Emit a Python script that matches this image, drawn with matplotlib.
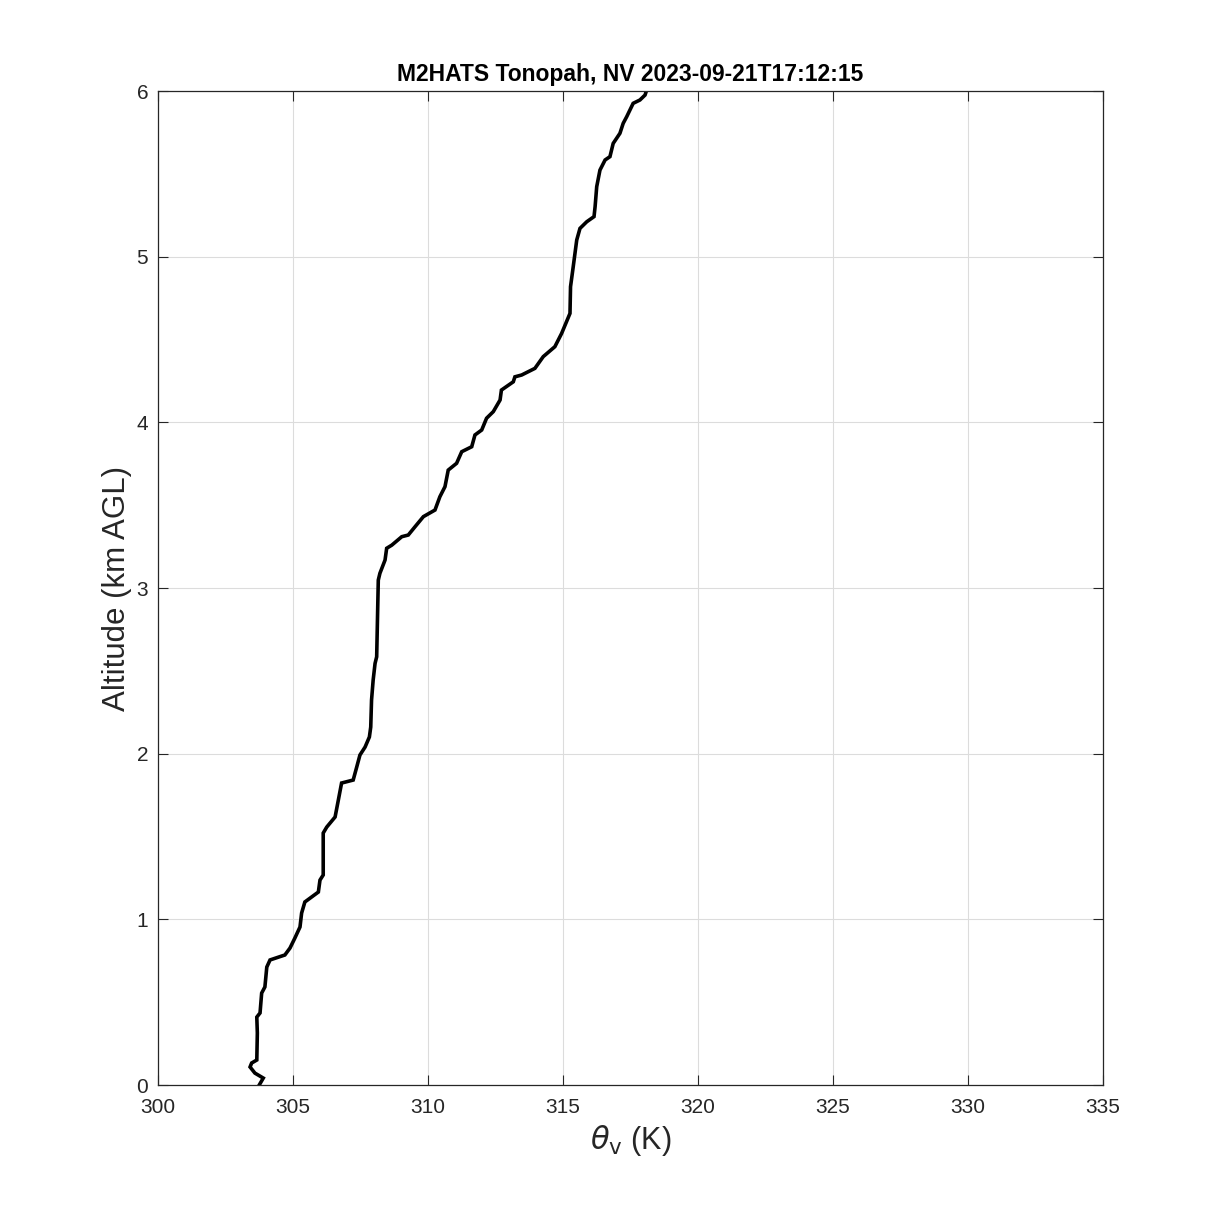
import numpy as np
import matplotlib
matplotlib.use("Agg")
import matplotlib.pyplot as plt

# virtual potential temperature (K) vs altitude (km AGL)
theta_v = [303.75, 303.90, 303.59, 303.41, 303.47, 303.66, 303.68, 303.66, 303.78, 303.84,
           303.96, 304.03, 304.15, 304.70, 304.89, 305.07, 305.26, 305.32, 305.44, 305.69,
           305.94, 306.00, 306.12, 306.12, 306.25, 306.56, 306.68, 306.80, 307.23, 307.36,
           307.48, 307.67, 307.83, 307.88, 307.91, 307.97, 308.04, 308.10, 308.16, 308.22,
           308.41, 308.47, 308.66, 309.03, 309.27, 309.52, 309.83, 310.26, 310.44, 310.63,
           310.75, 311.06, 311.25, 311.62, 311.74, 311.99, 312.17, 312.42, 312.67, 312.72,
           313.16, 313.22, 313.47, 313.96, 314.27, 314.70, 314.95, 315.26, 315.28, 315.38,
           315.51, 315.63, 315.88, 316.15, 316.19, 316.25, 316.37, 316.56, 316.74, 316.86,
           317.11, 317.23, 317.36, 317.60, 317.85, 318.04, 318.10]
alt_km = [0.000, 0.042, 0.072, 0.109, 0.133, 0.151, 0.314, 0.410, 0.435, 0.555,
          0.592, 0.712, 0.755, 0.785, 0.827, 0.887, 0.954, 1.038, 1.105, 1.135,
          1.165, 1.237, 1.268, 1.521, 1.557, 1.618, 1.720, 1.823, 1.841, 1.919,
          1.992, 2.040, 2.101, 2.161, 2.324, 2.445, 2.545, 2.585, 3.048, 3.089,
          3.169, 3.240, 3.259, 3.310, 3.320, 3.370, 3.431, 3.471, 3.551, 3.612,
          3.712, 3.753, 3.823, 3.853, 3.924, 3.954, 4.025, 4.065, 4.135, 4.195,
          4.245, 4.275, 4.286, 4.326, 4.397, 4.457, 4.537, 4.658, 4.819, 4.940,
          5.101, 5.171, 5.211, 5.242, 5.302, 5.423, 5.523, 5.584, 5.604, 5.684,
          5.745, 5.805, 5.845, 5.926, 5.946, 5.976, 6.006]

x_ticks = [300, 305, 310, 315, 320, 325, 330, 335]
y_ticks = [0, 1, 2, 3, 4, 5, 6]

plt.rcParams["font.family"] = ["Liberation Sans", "DejaVu Sans"]

fig = plt.figure(figsize=(12.19, 12.19), dpi=100)
ax = fig.add_axes([0.1296, 0.1099, 0.7752, 0.8154])

ax.plot(theta_v, alt_km, color="black", linewidth=2.6, solid_joinstyle="miter")

ax.set_xlim(300, 335)
ax.set_ylim(0, 6)
ax.set_xticks(x_ticks)
ax.set_yticks(y_ticks)
ax.tick_params(direction="in", top=True, right=True, labelsize=15,
               length=7, width=0.8, colors="#262626", labelcolor="#262626")
ax.tick_params(axis="x", pad=9)
ax.tick_params(axis="y", pad=7)
ax.grid(True, color="#dcdcdc", linewidth=0.8)
ax.set_axisbelow(True)
for s in ax.spines.values():
    s.set_color("#262626")
    s.set_linewidth(0.9)

ax.set_xlabel(r"$\theta_{\rm v}$ (K)", fontsize=22, color="#262626", labelpad=5)
ax.set_ylabel("Altitude (km AGL)", fontsize=22.5, color="#262626", labelpad=3)
ax.set_title("M2HATS Tonopah, NV 2023-09-21T17:12:15", fontsize=16.5,
             fontweight="bold", pad=7)

fig.savefig("out.png", dpi=100)
plt.close(fig)
